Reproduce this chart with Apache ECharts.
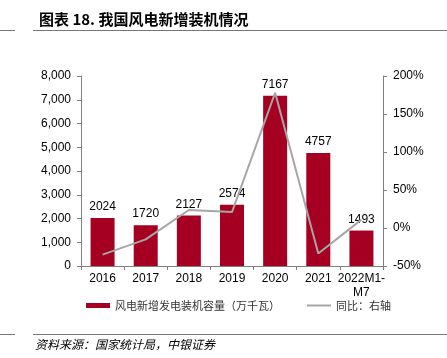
<!DOCTYPE html>
<html>
<head>
<meta charset="utf-8">
<script src="https://cdn.jsdelivr.net/npm/echarts@6/dist/echarts.min.js"></script>
<style>
html,body{margin:0;padding:0;background:#fff;}
#c{width:447px;height:358px;}
</style>
</head>
<body>
<div id="c"></div>
<script>
const categories = ['2016', '2017', '2018', '2019', '2020', '2021', '2022M1-\nM7'];
const capacity = [2024, 1720, 2127, 2574, 7167, 4757, 1493];
const yoy = [-35, -15, 23.7, 21, 178, -33.6, 11];
const leftTicks = { min: 0, max: 8000, interval: 1000 };
const rightTicks = { min: -50, max: 200, interval: 50 };
const barName = '风电新增发电装机容量（万千瓦）';
const lineName = '同比：右轴';

const chart = echarts.init(document.getElementById('c'), null, { renderer: 'canvas' });
const axisFont = { color: '#000', fontSize: 12, fontFamily: 'Arial, "Liberation Sans", sans-serif' };
const grayLine = '#808080';

chart.setOption({
  animation: false,
  backgroundColor: '#fff',
  title: {
    text: '图表 18. 我国风电新增装机情况',
    left: 34, top: 7,
    textStyle: { fontSize: 15, fontWeight: 'bold', color: '#000', fontFamily: '"Noto Sans CJK SC", sans-serif' }
  },
  graphic: [
    { type: 'line', shape: { x1: 0, y1: 30.5, x2: 15, y2: 30.5 }, style: { stroke: '#777', lineWidth: 1 } },
    { type: 'line', shape: { x1: 33, y1: 30.5, x2: 447, y2: 30.5 }, style: { stroke: '#777', lineWidth: 1 } },
    { type: 'line', shape: { x1: 0, y1: 334.5, x2: 15, y2: 334.5 }, style: { stroke: '#777', lineWidth: 1 } },
    { type: 'line', shape: { x1: 33, y1: 334.5, x2: 447, y2: 334.5 }, style: { stroke: '#777', lineWidth: 1 } },
    { type: 'text', left: 35, top: 338, style: { text: '资料来源：国家统计局，中银证券', fontSize: 12, fontStyle: 'italic', fill: '#000', fontFamily: '"Noto Sans CJK SC", sans-serif' } }
  ],
  legend: [
    {
      data: [barName], left: 81, top: 295, itemWidth: 24, itemHeight: 5, icon: 'rect',
      textStyle: { fontSize: 11, color: '#333', fontFamily: '"Noto Sans CJK SC", sans-serif' }
    },
    {
      data: [lineName], left: 302, top: 295, itemWidth: 24, itemHeight: 2, icon: 'rect',
      textStyle: { fontSize: 11, color: '#333', fontFamily: '"Noto Sans CJK SC", sans-serif' }
    }
  ],
  grid: { left: 81, right: 64, top: 76, bottom: 92, containLabel: false },
  xAxis: {
    type: 'category', data: categories, boundaryGap: true,
    axisLine: { lineStyle: { color: grayLine } },
    axisTick: { show: true, alignWithLabel: false, length: 4, lineStyle: { color: grayLine } },
    axisLabel: Object.assign({ margin: 6, lineHeight: 14, interval: 0 }, axisFont)
  },
  yAxis: [
    {
      type: 'value', min: leftTicks.min, max: leftTicks.max, interval: leftTicks.interval,
      axisLine: { show: true, lineStyle: { color: grayLine } },
      axisTick: { show: true, length: 4, lineStyle: { color: grayLine } },
      splitLine: { show: false },
      axisLabel: Object.assign({ margin: 10, formatter: v => v.toLocaleString('en-US') }, axisFont)
    },
    {
      type: 'value', min: rightTicks.min, max: rightTicks.max, interval: rightTicks.interval,
      position: 'right',
      axisLine: { show: true, lineStyle: { color: grayLine } },
      axisTick: { show: true, length: 4, lineStyle: { color: grayLine } },
      splitLine: { show: false },
      axisLabel: Object.assign({ margin: 10, formatter: v => v + '%' }, axisFont)
    }
  ],
  series: [
    {
      name: barName, type: 'bar', data: capacity, barWidth: 24,
      itemStyle: { color: '#A50021' },
      label: { show: true, position: 'top', distance: 5, color: '#000', fontSize: 12, fontFamily: 'Arial, "Liberation Sans", sans-serif' }
    },
    {
      name: lineName, type: 'line', yAxisIndex: 1, data: yoy,
      symbol: 'none', showSymbol: false, z: 3,
      lineStyle: { color: '#A6A6A6', width: 2 },
      itemStyle: { color: '#A6A6A6' }
    }
  ]
});
</script>
</body>
</html>
